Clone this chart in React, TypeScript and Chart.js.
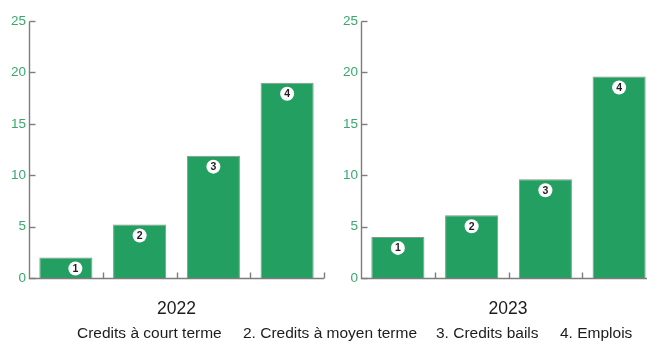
import React, { useEffect, useRef } from "react";
import { Chart, registerables } from "chart.js";

Chart.register(...registerables);

const categories = ["1", "2", "3", "4"];
const values2022 = [2.0, 5.2, 11.9, 19.0];
const values2023 = [4.0, 6.1, 9.6, 19.6];
const yearLabels = ["2022", "2023"];
const legendLabels = ["Credits à court terme", "2. Credits à moyen terme", "3. Credits bails", "4. Emplois"];

const BAR = "#239f61";
const TICK_GREEN = "#38a86e";
const AXIS = "#7d7d7d";

const innerTicks = {
  id: "innerTicks",
  afterDatasetsDraw(chart: any, _args: any, opts: any) {
    const { ctx, chartArea } = chart;
    const xs = chart.scales.x;
    const ys = chart.scales.y;
    ctx.save();
    ctx.strokeStyle = AXIS;
    ctx.lineWidth = 1.4;
    const left = Math.round(chartArea.left) + 0.5;
    const bottom = Math.round(chartArea.bottom) + 0.5;
    ctx.beginPath();
    ctx.moveTo(left, Math.round(chartArea.top) + 0.5);
    ctx.lineTo(left, bottom);
    ctx.lineTo(chartArea.right, bottom);
    ctx.stroke();
    ys.ticks.forEach((t: any) => {
      const y = Math.round(ys.getPixelForValue(t.value)) + 0.5;
      ctx.beginPath();
      ctx.moveTo(left, y);
      ctx.lineTo(left + 6, y);
      ctx.stroke();
    });
    const n = chart.data.labels.length;
    const xsPos: number[] = [];
    for (let i = 1; i < n; i++) {
      xsPos.push((xs.getPixelForValue(i - 1) + xs.getPixelForValue(i)) / 2);
    }
    xsPos.push(chartArea.right);
    xsPos.forEach((x) => {
      const xx = Math.round(x) + 0.5;
      ctx.beginPath();
      ctx.moveTo(xx, bottom);
      ctx.lineTo(xx, bottom - 6);
      ctx.stroke();
    });
    const meta = chart.getDatasetMeta(0);
    const shifts: number[] = (opts && opts.shifts) || [];
    meta.data.forEach((bar: any, i: number) => {
      const cx = bar.x + (shifts[i] || 0);
      const cy = bar.y + 11;
      ctx.beginPath();
      ctx.fillStyle = "#ffffff";
      ctx.arc(cx, cy, 7, 0, Math.PI * 2);
      ctx.fill();
      ctx.fillStyle = "#1e1e1e";
      ctx.font = "bold 10.5px 'Liberation Sans', Arial, sans-serif";
      ctx.textAlign = "center";
      ctx.textBaseline = "middle";
      ctx.fillText(categories[i], cx, cy + 0.5);
    });
    ctx.restore();
  },
};

function BarPanel(props: { values: number[]; axisWidth: number; padRight: number; width: number; left: number; shifts: number[] }) {
  const ref = useRef<HTMLCanvasElement | null>(null);
  useEffect(() => {
    if (!ref.current) return;
    const chart = new Chart(ref.current, {
      type: "bar",
      data: {
        labels: categories,
        datasets: [
          {
            data: props.values,
            backgroundColor: BAR,
            borderColor: "#8a948e",
            borderWidth: 1,
            borderSkipped: "bottom",
            barPercentage: 0.72,
            categoryPercentage: 1,
          },
        ],
      },
      options: {
        responsive: false,
        animation: false,
        layout: { padding: { top: 21, bottom: 63, left: 0, right: props.padRight } },
        plugins: {
          legend: { display: false },
          tooltip: { enabled: false },
          innerTicks: { shifts: props.shifts },
        } as any,
        scales: {
          x: {
            offset: true,
            grid: { display: false, drawTicks: false },
            border: { display: false },
            ticks: { display: false },
            afterFit: (s: any) => {
              s.height = 0;
            },
          },
          y: {
            min: 0,
            max: 25,
            ticks: {
              stepSize: 5,
              color: TICK_GREEN,
              padding: 3,
              font: { family: "'Liberation Sans', Arial, sans-serif", size: 13.5 },
            },
            grid: { display: false, drawTicks: false },
            border: { display: false },
            afterFit: (s: any) => {
              s.width = props.axisWidth;
            },
          },
        },
      },
      plugins: [innerTicks],
    });
    return () => chart.destroy();
  }, []);
  return (
    <canvas
      ref={ref}
      width={props.width}
      height={341}
      style={{ position: "absolute", left: props.left, top: 0, width: props.width, height: 341 }}
    />
  );
}

export default function App() {
  const textFont = "'Liberation Sans', Arial, Helvetica, sans-serif";
  const legendLeft = [77, 243, 436, 560];
  return (
    <div
      style={{
        position: "fixed",
        left: 0,
        top: 0,
        width: 647,
        height: 341,
        overflow: "hidden",
        background: "#ffffff",
      }}
    >
      <BarPanel values={values2022} axisWidth={29} padRight={6} width={330} left={0} shifts={[9.5, 0, 0, 0]} />
      <BarPanel values={values2023} axisWidth={31} padRight={4} width={330} left={330} shifts={[0, 0, 0, 0]} />
      {yearLabels.map((y, i) => (
        <div
          key={y}
          style={{
            position: "absolute",
            left: i === 0 ? 126.5 : 458,
            width: 100,
            top: 297,
            textAlign: "center",
            font: `17.5px ${textFont}`,
            color: "#1c1c1c",
            lineHeight: "22px",
          }}
        >
          {y}
        </div>
      ))}
      {legendLabels.map((l, i) => (
        <div
          key={l}
          style={{
            position: "absolute",
            left: legendLeft[i],
            top: 324,
            font: `15.5px ${textFont}`,
            color: "#1c1c1c",
            whiteSpace: "nowrap",
            lineHeight: "18px",
          }}
        >
          {l}
        </div>
      ))}
    </div>
  );
}
